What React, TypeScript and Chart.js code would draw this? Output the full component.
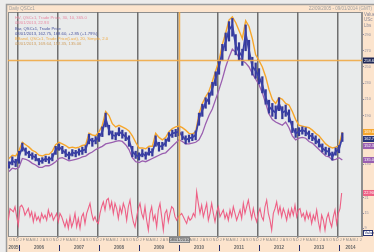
import React, { useEffect, useRef } from "react";
import { Chart, registerables } from "chart.js";

Chart.register(...registerables);

// x positions are months counted from Jan 2005 (0 = Jan 2005)
const X_MIN = 8.7; // 22 Sep 2005
const X_MAX = 114.9;
const PRICE_START = 9; // first monthly bar (Oct 2005)
const HV_START = 8.8;
const HV_STEP = 0.5;

const MONTH_LETTERS = ["J", "F", "M", "A", "M", "J", "J", "A", "S", "O", "N", "D"];
const YEARS = [2005, 2006, 2007, 2008, 2009, 2010, 2011, 2012, 2013, 2014];

const priceClose = [
  128.9, 134.3, 131.8, 139.2, 151.5, 145.4, 142.5, 140.0, 138.4, 133.0,
  134.3, 136.7, 135.1, 138.4, 147.4, 151.5, 147.4, 143.3, 140.0, 144.1,
  143.3, 145.4, 146.6, 148.3, 161.8, 157.7, 159.8, 163.1, 170.1, 186.5,
  172.1, 166.0, 164.7, 170.1, 167.2, 163.9, 159.8, 145.4, 141.3, 139.2,
  143.3, 140.0, 145.4, 144.1, 159.0, 151.5, 152.4, 156.5, 163.9, 168.0,
  168.8, 170.1, 164.7, 159.8, 161.8, 163.1, 166.0, 186.5, 196.8, 205.9,
  211.2, 223.6, 235.9, 250.4, 268.9, 281.2, 295.6, 301.8, 277.1, 268.9,
  262.7, 291.5, 270.9, 250.4, 245.4, 238.0, 227.7, 212.5, 201.0, 196.8,
  193.5, 205.1, 193.5, 196.0, 189.4, 175.4, 168.0, 170.1, 172.1, 170.1,
  166.0, 163.9, 159.8, 155.7, 149.5, 146.6, 145.0, 139.2, 145.4, 148.3,
  162.75,
];

const priceHigh = [
  133, 139, 136, 146, 156, 150, 146, 144, 142, 137,
  138, 140, 139, 143, 152, 155, 152, 148, 145, 148,
  147, 149, 151, 153, 167, 162, 164, 168, 176, 193,
  178, 171, 169, 175, 172, 169, 165, 152, 146, 144,
  148, 145, 150, 149, 165, 157, 157, 161, 169, 172,
  173, 175, 170, 165, 166, 167, 171, 193, 204, 212,
  218, 231, 244, 258, 278, 292, 306, 310, 290, 280,
  272, 302, 283, 262, 255, 248, 238, 222, 209, 205,
  202, 212, 201, 203, 197, 183, 174, 175, 176, 175,
  171, 168, 165, 161, 155, 151, 150, 145, 150, 153,
  168.6,
];

const priceLow = [
  125, 129, 127, 131, 146, 141, 138, 136, 134, 129,
  131, 133, 131, 134, 142, 147, 143, 139, 136, 140,
  139, 141, 142, 144, 155, 152, 155, 158, 164, 176,
  166, 161, 160, 165, 162, 159, 152, 139, 137, 135,
  139, 136, 141, 140, 152, 146, 148, 152, 158, 163,
  164, 165, 160, 155, 157, 159, 160, 178, 189, 199,
  204, 215, 227, 241, 258, 270, 282, 288, 265, 258,
  252, 270, 258, 240, 236, 229, 218, 204, 193, 189,
  186, 196, 186, 189, 182, 169, 163, 165, 167, 165,
  161, 159, 155, 151, 145, 142, 140, 135, 141, 144,
  158,
];

const bandUpper = [
  137, 141, 140, 147, 157, 154, 151, 147, 145, 141,
  140, 142, 142, 146, 154, 157, 155, 153, 150, 151,
  150, 151, 153, 154, 168, 166, 165, 170, 178, 195,
  190, 180, 176, 178, 176, 174, 171, 165, 157, 150,
  150, 149, 152, 152, 168, 163, 160, 163, 170, 174,
  176, 177, 175, 172, 168, 167, 170, 192, 205, 213,
  220, 232, 245, 258, 278, 292, 308, 312, 305, 295,
  285, 307, 300, 285, 265, 258, 250, 238, 222, 210,
  205, 212, 210, 205, 203, 195, 185, 178, 177, 176,
  175, 172, 168, 165, 160, 155, 152, 150, 151, 153,
  169.64,
];

const bandLower = [
  121, 125, 124, 126, 137, 136, 134, 131, 129, 126,
  126, 128, 128, 130, 133, 137, 138, 136, 134, 135,
  136, 137, 139, 140, 143, 145, 148, 150, 152, 155,
  156, 157, 158, 159, 158, 154, 148, 138, 133, 132,
  134, 133, 135, 137, 139, 141, 143, 144, 148, 152,
  156, 160, 158, 155, 155, 156, 157, 160, 168, 180,
  190, 198, 210, 222, 235, 250, 262, 272, 268, 262,
  258, 255, 250, 242, 235, 228, 218, 205, 192, 185,
  182, 180, 178, 182, 175, 165, 160, 162, 163, 162,
  158, 156, 152, 148, 144, 140, 139, 135, 136, 138,
  135.06,
];

const hv = [
  12.2, 16.8, 16.2, 15.5, 17.5, 13.6, 10.3,
  17.5, 18.1, 16.8, 14.2, 15.5, 16.8, 13.6, 15.5, 11.6, 14.9, 12.2, 13.6, 11.6, 14.9, 12.9, 14.2, 12.2, 16.2, 13.6, 14.9, 12.2, 13.6, 14.9, 11.6,
  14.9, 13.6, 11.6, 9.6, 12.2, 9.0, 13.6, 9.6, 11.6, 14.9, 9.6, 12.9, 9.0, 13.6, 14.9, 10.9, 14.9, 16.8, 18.8, 14.9, 12.2, 13.6, 11.6, 10.9,
  14.9, 17.5, 19.4, 16.2, 20.1, 20.8, 16.8, 19.4, 14.9, 18.8, 16.8, 12.9, 17.5, 14.9, 18.8, 16.8, 12.2, 17.5, 20.1, 14.9, 11.6, 9.6, 13.6, 16.8,
  18.8, 14.9, 12.9, 17.5, 12.2, 8.3, 14.9, 17.5, 12.2, 14.2, 9.6, 16.2, 18.8, 13.6, 8.3, 14.9, 16.2, 11.6, 14.9, 17.5, 16.8, 13.6, 12.2, 13.6,
  14.2, 14.9, 13.6, 12.2, 10.9, 13.6, 12.2, 12.9, 14.9, 13.6, 23.4, 18.8, 14.9, 18.1, 13.6, 16.2, 18.8, 12.2, 14.9, 18.8, 14.9, 11.6, 15.5,
  17.5, 13.6, 14.9, 16.2, 12.9, 14.9, 12.2, 16.2, 13.6, 17.5, 14.9, 12.2, 14.2, 16.2, 12.9, 18.8, 14.9, 17.5, 20.1, 16.2, 12.9, 16.8, 13.6, 11.6, 14.9,
  16.8, 13.6, 12.2, 17.5, 20.1, 14.9, 12.2, 8.3, 14.9, 16.8, 19.4, 14.9, 17.5, 13.6, 16.8, 14.9, 12.2, 16.2, 13.6, 16.8, 14.2, 18.1, 13.6,
  16.2, 16.8, 13.6, 14.9, 12.2, 15.5, 12.9, 14.9, 10.9, 14.2, 12.2, 16.2, 11.6, 8.3, 14.2, 12.2, 8.3, 12.9, 14.9, 11.6, 9.6, 13.6, 16.2, 10.9, 14.9, 16.8, 22.9,
];

const LEGEND_LINES = [
  { text: "HV, QSCc1, Trade Price, 30, 10, 365.0", color: "#e98aa3" },
  { text: "08/01/2013, 22.93", color: "#e98aa3" },
  { text: "Bar, QSCc1, Trade Price", color: "#4a55a0" },
  { text: "08/01/2013, 162.75, 168.60, +2.85 (+1.79%)", color: "#4a55a0" },
  { text: "BBand, QSCc1, Trade Price(Last), 20, Simple, 2.0", color: "#f0aa45" },
  { text: "08/01/2013, 169.64, 152.35, 135.06", color: "#d0a060" },
];

const CROSS_MONTH = 60;
const CROSS_VALUE = 258.6;
const CROSS_DATE = "08/01/2010";

const PEACH = "#fce4cd";
const PLOT_BG = "#e9ebeb";
const FONT = "'Liberation Sans', 'DejaVu Sans', sans-serif";
const C_BLUE = "#34399a";
const C_ORANGE = "#f6a62b";
const C_PURPLE = "#9a5fb0";
const C_PINK = "#ee6085";

const decorPlugin = {
  id: "decor",
  beforeDraw(chart: any) {
    const { ctx, chartArea: a, width, height } = chart;
    ctx.save();
    ctx.fillStyle = "#ececec";
    ctx.fillRect(0, 0, width, height);
    ctx.fillStyle = PEACH;
    ctx.fillRect(6, 4, width - 6, height - 4);
    ctx.strokeStyle = "#9c9c9c";
    ctx.lineWidth = 1.5;
    ctx.beginPath();
    ctx.moveTo(6.5, height);
    ctx.lineTo(6.5, 4.5);
    ctx.lineTo(width, 4.5);
    ctx.stroke();
    ctx.fillStyle = PLOT_BG;
    ctx.fillRect(a.left, a.top, a.right - a.left, a.bottom - a.top);
    ctx.strokeStyle = "#8e8e8e";
    ctx.lineWidth = 1;
    ctx.strokeRect(a.left + 0.5, a.top + 0.5, a.right - a.left - 1, a.bottom - a.top);
    ctx.font = `4.5px ${FONT}`;
    ctx.textBaseline = "middle";
    ctx.fillStyle = "#a0a0a0";
    ctx.textAlign = "left";
    ctx.fillText("Daily QSCc1", a.left + 1, (4 + a.top) / 2 + 0.5);
    ctx.textAlign = "right";
    ctx.fillText("22/09/2005 - 09/01/2014 (GMT)", width - 2, (4 + a.top) / 2 + 0.5);
    // right axis header
    ctx.textAlign = "left";
    ctx.fillStyle = "#8a8a9a";
    ctx.fillText("Value", a.right + 2, a.top + 3);
    ctx.fillText("USc", a.right + 2, a.top + 8);
    ctx.fillText("Lbs", a.right + 2, a.top + 14);
    ctx.restore();
  },
  afterDatasetsDraw(chart: any) {
    const { ctx, chartArea: a, width, height, scales } = chart;
    const xs = scales.x;
    const ys = scales.y;
    const y2 = scales.y2;
    ctx.save();
    // crosshair
    const cx = Math.round(xs.getPixelForValue(CROSS_MONTH)) + 0.5;
    const cy = Math.round(ys.getPixelForValue(CROSS_VALUE)) + 0.5;
    ctx.strokeStyle = "rgba(240,170,70,0.9)";
    ctx.lineWidth = 1.5;
    ctx.beginPath();
    ctx.moveTo(cx, a.top);
    ctx.lineTo(cx, a.bottom);
    ctx.moveTo(a.left, cy);
    ctx.lineTo(a.right, cy);
    ctx.stroke();

    // legend text
    ctx.font = `4.2px ${FONT}`;
    ctx.textAlign = "left";
    ctx.textBaseline = "middle";
    const offs = [6.3, 10.7, 17.3, 21.7, 27, 31.7];
    LEGEND_LINES.forEach((l, i) => {
      ctx.fillStyle = l.color;
      ctx.fillText(l.text, a.left + 7, a.top + offs[i]);
    });

    // value boxes on right axis
    const last = priceClose.length - 1;
    const boxes = [
      { y: ys.getPixelForValue(bandUpper[last]), bg: C_ORANGE, fg: "#fff", t: bandUpper[last].toFixed(2) },
      { y: ys.getPixelForValue(priceClose[last]), bg: "#263479", fg: "#fff", t: priceClose[last].toFixed(2) },
      { y: ys.getPixelForValue((bandUpper[last] + bandLower[last]) / 2), bg: C_PURPLE, fg: "#fff", t: ((bandUpper[last] + bandLower[last]) / 2).toFixed(2) },
      { y: ys.getPixelForValue(bandLower[last]), bg: C_PURPLE, fg: "#fff", t: bandLower[last].toFixed(2) },
    ];
    for (let i = 1; i < boxes.length; i++) {
      if (boxes[i].y - boxes[i - 1].y < 7) boxes[i].y = boxes[i - 1].y + 7;
    }
    boxes.push({ y: cy, bg: "#1f2755", fg: "#fff", t: CROSS_VALUE.toFixed(2) });
    boxes.push({ y: y2.getPixelForValue(hv[hv.length - 1]), bg: C_PINK, fg: "#fff", t: hv[hv.length - 1].toFixed(2) });
    ctx.font = `4px ${FONT}`;
    boxes.forEach((b) => {
      ctx.fillStyle = b.bg;
      ctx.fillRect(a.right + 1, b.y - 3, width - a.right - 1, 6);
      ctx.fillStyle = b.fg;
      ctx.fillText(b.t, a.right + 2, b.y);
    });
    // "Value" box bottom right
    ctx.fillStyle = "#ffffff";
    ctx.fillRect(a.right + 1, a.bottom - 6, width - a.right - 2, 6);
    ctx.strokeStyle = "#26306e";
    ctx.lineWidth = 1;
    ctx.strokeRect(a.right + 1.5, a.bottom - 5.5, width - a.right - 3, 5);
    ctx.fillStyle = "#26306e";
    ctx.fillText("Value", a.right + 2.5, a.bottom - 3);

    // cursor date box on time axis
    ctx.fillStyle = "#c8c8c8";
    ctx.fillRect(cx - 10, a.bottom + 1.5, 20, 5);
    ctx.strokeStyle = "#888";
    ctx.strokeRect(cx - 10, a.bottom + 1.5, 20, 5);
    ctx.fillStyle = "#333";
    ctx.textAlign = "center";
    ctx.fillText(CROSS_DATE, cx, a.bottom + 4);

    // year marks in the year row
    ctx.strokeStyle = "#26306e";
    ctx.lineWidth = 1;
    YEARS.forEach((yr) => {
      const m = (yr - 2005) * 12;
      if (m <= X_MIN || m >= X_MAX) return;
      const px = Math.round(xs.getPixelForValue(m)) + 0.5;
      ctx.beginPath();
      ctx.moveTo(px, a.bottom + 9);
      ctx.lineTo(px, height - 1);
      ctx.stroke();
    });
    ctx.restore();
  },
};

export default function App() {
  const ref = useRef<HTMLCanvasElement | null>(null);

  useEffect(() => {
    if (!ref.current) return;
    const pricePts = (arr: number[]) => arr.map((v, i) => ({ x: PRICE_START + i, y: v }));
    const barPts = priceClose.map((_, i) => ({ x: PRICE_START + i, y: [priceLow[i], priceHigh[i]] }));
    const hvPts = hv.map((v, i) => ({ x: HV_START + i * HV_STEP, y: v }));
    const yearMids = YEARS.map((yr) => {
      const s = Math.max((yr - 2005) * 12, X_MIN);
      const e = Math.min((yr - 2004) * 12, X_MAX);
      return (s + e) / 2;
    });

    const chart = new Chart(ref.current, {
      type: "line",
      data: {
        datasets: [
          {
            type: "line",
            label: "HV",
            data: hvPts,
            yAxisID: "y2",
            xAxisID: "x",
            borderColor: C_PINK,
            borderWidth: 1.1,
            pointRadius: 0,
            tension: 0,
            order: 4,
          } as any,
          {
            type: "line",
            label: "Upper",
            data: pricePts(bandUpper),
            yAxisID: "y",
            xAxisID: "x",
            borderColor: C_ORANGE,
            borderWidth: 1.4,
            pointRadius: 0,
            tension: 0,
            order: 3,
          },
          {
            type: "line",
            label: "Lower",
            data: pricePts(bandLower),
            yAxisID: "y",
            xAxisID: "x",
            borderColor: C_PURPLE,
            borderWidth: 1.3,
            pointRadius: 0,
            tension: 0,
            order: 2,
          },
          {
            type: "bar",
            label: "Range",
            data: barPts,
            yAxisID: "y",
            xAxisID: "x",
            backgroundColor: C_BLUE,
            barThickness: 1.6,
            order: 1,
          } as any,
          {
            type: "line",
            label: "Close",
            data: pricePts(priceClose),
            yAxisID: "y",
            xAxisID: "x",
            borderColor: "#3a40a6",
            borderWidth: 1.8,
            pointRadius: 0,
            tension: 0,
            order: 0,
          },
        ],
      },
      options: {
        animation: false,
        responsive: false,
        devicePixelRatio: 1,
        layout: { padding: { left: 8, top: 12, right: 0, bottom: 0 } },
        plugins: { legend: { display: false }, tooltip: { enabled: false }, title: { display: false } },
        scales: {
          x: {
            type: "linear",
            position: "bottom",
            weight: 0,
            min: X_MIN,
            max: X_MAX,
            offset: false,
            afterBuildTicks: (s: any) => {
              const t: any[] = [];
              for (let m = Math.ceil(X_MIN); m <= Math.floor(X_MAX); m++) t.push({ value: m });
              s.ticks = t;
            },
            afterFit: (s: any) => {
              s.height = 8;
            },
            ticks: {
              autoSkip: false,
              maxRotation: 0,
              minRotation: 0,
              labelOffset: 1.6,
              padding: 0,
              font: { size: 3.6, family: FONT },
              color: "#8a8a8a",
              callback: (v: any) => MONTH_LETTERS[((Math.round(v) % 12) + 12) % 12],
            },
            grid: {
              drawTicks: true,
              tickLength: 2,
              tickColor: "#9a9a9a",
              color: (c: any) => (c.tick && Math.round(c.tick.value) % 12 === 0 ? "#6f6f6f" : "rgba(0,0,0,0)"),
              lineWidth: (c: any) => (c.tick && Math.round(c.tick.value) % 12 === 0 ? 1.5 : 0),
            },
            border: { display: true, color: "#8e8e8e" },
          },
          x2: {
            type: "linear",
            position: "bottom",
            weight: 1,
            min: X_MIN,
            max: X_MAX,
            offset: false,
            afterBuildTicks: (s: any) => {
              s.ticks = yearMids.map((v) => ({ value: v }));
            },
            afterFit: (s: any) => {
              s.height = 8;
            },
            ticks: {
              autoSkip: false,
              maxRotation: 0,
              minRotation: 0,
              padding: 1,
              font: { size: 4.5, family: FONT, weight: "bold" },
              color: "#666",
              callback: (v: any) => String(2005 + Math.floor(v / 12)),
            },
            grid: { display: false, drawTicks: false },
            border: { display: false },
          },
          y: {
            type: "linear",
            position: "right",
            stack: "right",
            stackWeight: 3,
            min: 110.4,
            max: 317.9,
            afterFit: (s: any) => {
              s.width = 12;
            },
            afterBuildTicks: (s: any) => {
              s.ticks = s.ticks.filter((t: any) => t.value >= 120 && t.value <= 300 && t.value % 10 === 0);
            },
            ticks: {
              stepSize: 10,
              padding: 1,
              font: { size: 3.8, family: FONT },
              color: "#9090a0",
            },
            grid: { drawOnChartArea: false, drawTicks: true, tickLength: 1.5, tickColor: "#26306e" },
            border: { display: true, color: "#8e8e8e" },
          },
          y2: {
            type: "linear",
            position: "right",
            stack: "right",
            stackWeight: 1,
            min: 6,
            max: 28,
            afterFit: (s: any) => {
              s.width = 12;
            },
            afterBuildTicks: (s: any) => {
              s.ticks = s.ticks.filter((t: any) => t.value >= 8 && t.value <= 25);
            },
            ticks: {
              stepSize: 3,
              padding: 1,
              font: { size: 3.8, family: FONT },
              color: "#9090a0",
            },
            grid: { drawOnChartArea: false, drawTicks: true, tickLength: 1.5, tickColor: "#26306e" },
            border: { display: true, color: "#8e8e8e" },
          },
        },
      } as any,
      plugins: [decorPlugin],
    });
    return () => chart.destroy();
  }, []);

  return (
    <div style={{ position: "fixed", left: 0, top: 0, width: 374, height: 252 }}>
      <canvas ref={ref} width={374} height={252} style={{ display: "block", width: 374, height: 252 }} />
    </div>
  );
}
